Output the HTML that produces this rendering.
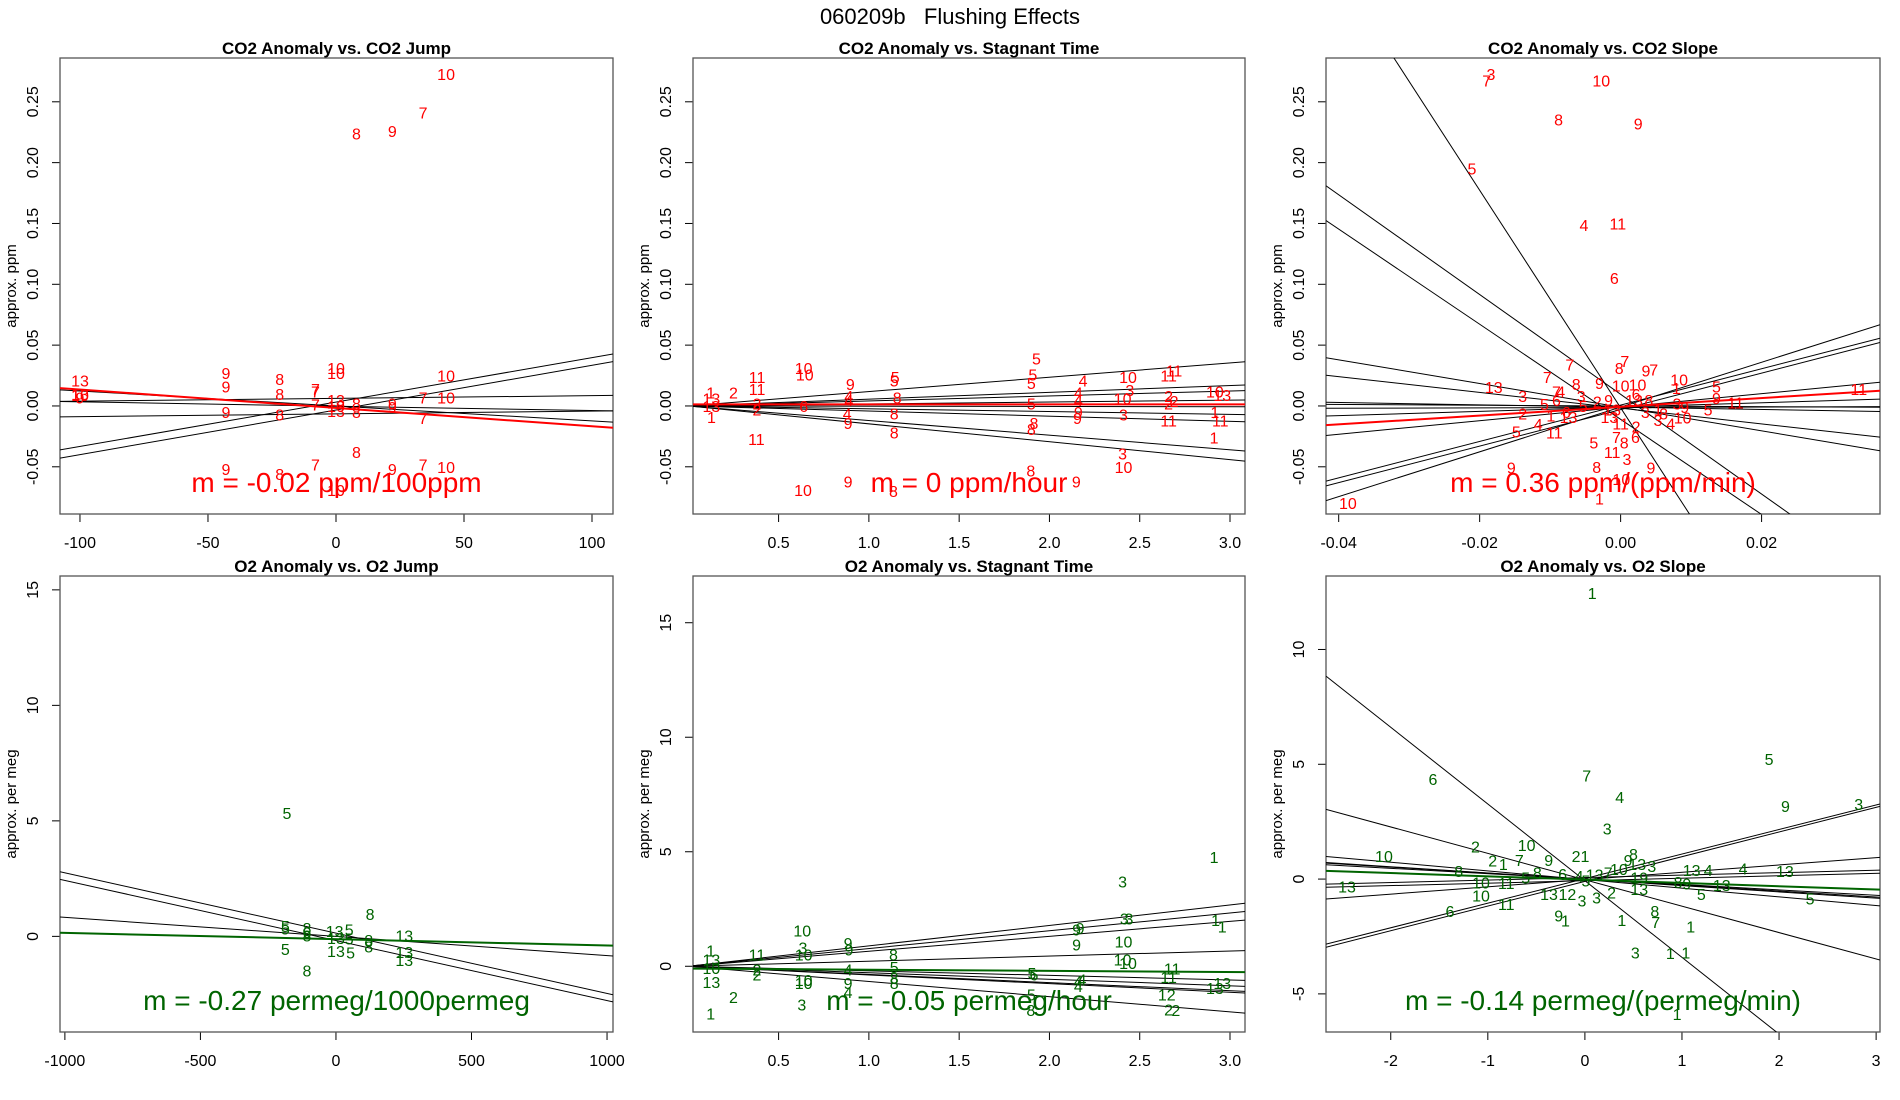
<!DOCTYPE html>
<html><head><meta charset="utf-8"><title>060209b Flushing Effects</title>
<style>
html,body{margin:0;padding:0;background:#fff;}
svg{display:block;font-family:"Liberation Sans",Arial,sans-serif;}
</style></head>
<body>
<svg id="chart" width="1900" height="1100" viewBox="0 0 1900 1100">
<rect x="0" y="0" width="1900" height="1100" fill="#fff"/>
<text x="950" y="24" text-anchor="middle" font-size="22" style="white-space:pre">060209b   Flushing Effects</text>
</svg>
<script>
// ---- Panel 1: CO2 Anomaly vs CO2 Jump ----
const p1Points = [[43,0.273,'10'],[34,0.241,'7'],[8,0.224,'8'],[22,0.226,'9'],[-100,0.021,'13'],[-100,0.010,'13'],[-100,0.009,'10'],[-100,0.007,'9'],
[-43,0.027,'9'],[-43,0.016,'9'],[-43,-0.005,'9'],[-22,0.022,'8'],[-22,0.010,'8'],[-22,-0.007,'8'],[-8,0.014,'7'],[-8,0.012,'7'],[-8,0.001,'7'],
[0,0.031,'10'],[0,0.027,'10'],[0,0.005,'13'],[0,0,'10'],[0,-0.004,'13'],[8,0.002,'8'],[8,-0.005,'8'],[22,0.002,'9'],[22,-0.001,'9'],
[34,0.007,'7'],[34,-0.010,'7'],[43,0.025,'10'],[43,0.007,'10'],[8,-0.038,'8'],[-8,-0.048,'7'],[34,-0.048,'7'],[43,-0.050,'10'],
[-43,-0.052,'9'],[-22,-0.056,'8'],[22,-0.052,'9'],[0,-0.069,'10']];
const p1LineInt = [0.0032,-0.0033,0.0062,-0.0065,0,-0.0002];
const p1LineSlope = [0.000365,0.000367,0.0000227,0.0000227,-0.000123,-0.0000357];
const p1Fit = [-0.0016,-0.000151];
const p1XTicks = [-100,-50,0,50,100];
const p1YTicks = [-0.05,0,0.05,0.10,0.15,0.20,0.25];
const p1YLabels = ['-0.05','0.00','0.05','0.10','0.15','0.20','0.25'];

// ---- Panel 2: CO2 Anomaly vs Stagnant Time ----
const p2Points = [[1.928,0.039,'5'],[1.908,0.026,'5'],[1.90,0.019,'5'],[1.90,0.002,'5'],[0.639,0.031,'10'],[0.645,0.026,'10'],[0.381,0.024,'11'],[0.381,0.014,'11'],
[0.377,-0.027,'11'],[1.146,0.024,'5'],[1.14,0.021,'5'],[0.897,0.018,'9'],[0.889,0.008,'4'],[0.889,0.005,'4'],[1.157,0.007,'8'],[0.25,0.011,'2'],
[0.124,0.011,'1'],[0.128,0.006,'13'],[0.128,0,'13'],[0.128,-0.009,'1'],[0.38,0.002,'2'],[0.38,-0.003,'2'],[0.639,0,'6'],[0.88,-0.006,'4'],
[0.885,-0.014,'9'],[1.14,-0.006,'8'],[1.14,-0.022,'8'],[1.914,-0.014,'8'],[1.90,-0.019,'8'],[1.897,-0.053,'8'],[0.885,-0.062,'9'],[0.635,-0.069,'10'],
[1.136,-0.070,'8'],[2.149,-0.062,'9'],[2.186,0.021,'4'],[2.16,0.011,'4'],[2.16,0.005,'4'],[2.16,-0.005,'9'],[2.155,-0.010,'9'],[2.435,0.024,'10'],
[2.445,0.013,'3'],[2.405,0.006,'10'],[2.41,-0.007,'3'],[2.405,-0.039,'3'],[2.41,-0.050,'10'],[2.66,0.025,'11'],[2.69,0.029,'11'],[2.66,0.008,'2'],
[2.69,0.004,'2'],[2.66,0.002,'2'],[2.66,-0.012,'11'],[2.916,0.012,'10'],[2.957,0.009,'13'],[2.916,-0.005,'1'],[2.946,-0.012,'11'],[2.912,-0.026,'1']];
const p2LineInt = [0,0,0,0,0,0,0,0,0];
const p2LineSlope = [0.0118,0.0056,0.0041,0.0016,-0.0002,-0.0023,-0.0042,-0.0120,-0.0147];
const p2Fit = [0.0013,0];
const p2XTicks = [0.5,1.0,1.5,2.0,2.5,3.0];
const p2XLabels = ['0.5','1.0','1.5','2.0','2.5','3.0'];

// ---- Panel 3: CO2 Anomaly vs CO2 Slope ----
const p3Points = [[-0.0184,0.273,'3'],[-0.019,0.2675,'7'],[-0.00275,0.2675,'10'],[-0.0088,0.2356,'8'],[0.0025,0.232,'9'],[-0.0211,0.195,'5'],
[-0.0052,0.1486,'4'],[-0.0004,0.150,'11'],[-0.0009,0.105,'6'],[-0.0072,0.034,'7'],[-0.0104,0.0236,'7'],[-0.018,0.0156,'13'],[-0.0139,0.0083,'3'],
[-0.0108,0.0017,'5'],[-0.0091,0.012,'7'],[-0.0085,0.012,'4'],[-0.0091,0.005,'6'],[-0.0063,0.018,'8'],[-0.003,0.019,'9'],[0.0006,0.037,'7'],
[-0.0002,0.031,'8'],[0.0036,0.029,'9'],[0.0047,0.030,'7'],[0,0.0167,'10'],[0.0024,0.0175,'10'],[0.0083,0.0217,'10'],[0.0079,0.0147,'1'],
[0.0136,0.016,'5'],[0.0136,0.0064,'9'],[0.0163,0.003,'11'],[0.0338,0.014,'11'],[-0.0139,-0.006,'2'],[-0.0117,-0.015,'4'],[-0.0148,-0.021,'5'],
[-0.0094,-0.022,'11'],[-0.0099,-0.008,'1'],[-0.0077,-0.005,'6'],[-0.0074,-0.009,'13'],[-0.0056,0.008,'3'],[-0.0053,0,'5'],[-0.0033,0.0036,'2'],
[-0.0017,0.005,'9'],[-0.0016,-0.009,'13'],[-0.0012,-0.003,'13'],[0,-0.0144,'11'],[0.0022,-0.017,'2'],[0.0021,-0.0256,'6'],[-0.0006,-0.0256,'7'],
[0.0005,-0.030,'8'],[-0.0038,-0.030,'5'],[-0.0012,-0.038,'11'],[0.0009,-0.0436,'3'],[-0.0034,-0.050,'8'],[0.0043,-0.0506,'9'],[-0.0155,-0.0506,'9'],
[0.0001,-0.060,'10'],[-0.003,-0.076,'1'],[-0.0387,-0.0797,'10'],[0.0019,0.005,'13'],[0.0022,0.010,'6'],[0.004,0.005,'8'],[0.0035,-0.005,'3'],
[0.0053,-0.0117,'3'],[0.0061,-0.006,'8'],[0.008,0.002,'3'],[0.0091,-0.001,'9'],[0.0071,-0.0144,'4'],[0.0088,-0.0094,'10'],[0.0124,-0.003,'5'],[0.0053,-0.003,'1']];
const p3LineInt = [-0.0015,0.0096,-0.011,-0.001,-0.0018,-0.001,-0.0012,-0.0009,-0.001,0.0007,-0.003,-0.0009,0];
const p3LineSlope = [-8.94,-4.1,-3.91,-0.973,-0.648,-0.096,0.017,0.177,0.556,1.494,1.50,1.84,-0.03];
const p3Fit = [-0.0007,0.36];
const p3XTicks = [-0.04,-0.02,0,0.02];
const p3XLabels = ['-0.04','-0.02','0.00','0.02'];

// ---- Panel 4: O2 Anomaly vs O2 Jump ----
const p4Points = [[-181,5.34,'5'],[-187,0.45,'5'],[-187,0.34,'5'],[-107,0.37,'8'],[-107,0.19,'6'],[-107,0.03,'8'],[-5,0.23,'13'],[49,0.30,'5'],
[0,-0.08,'13'],[49,-0.09,'5'],[-187,-0.54,'5'],[0,-0.64,'13'],[54,-0.70,'5'],[126,0.96,'8'],[121,-0.16,'8'],[121,-0.43,'8'],[252,0.03,'13'],
[252,-0.67,'13'],[252,-1.02,'13'],[-107,-1.48,'8']];
const p4LineInt = [0.14,-0.18,-0.003];
const p4LineSlope = [-0.00261,-0.0026,-0.000828];
const p4Fit = [-0.122,-0.000272];
const p4XTicks = [-1000,-500,0,500,1000];
const p4YTicks = [0,5,10,15];

// ---- Panel 5: O2 Anomaly vs Stagnant Time ----
const p5Points = [[2.912,4.77,'1'],[2.405,3.71,'3'],[2.415,2.08,'3'],[2.44,2.08,'3'],[2.92,2.03,'1'],[2.957,1.74,'1'],[2.17,1.67,'9'],[2.15,1.60,'9'],
[2.15,0.94,'9'],[2.41,1.09,'10'],[2.405,0.29,'10'],[2.435,0.15,'10'],[0.631,1.56,'10'],[0.635,0.83,'3'],[0.639,0.51,'10'],[0.885,1.02,'9'],
[0.89,0.73,'9'],[1.136,0.51,'8'],[1.14,-0.04,'5'],[1.14,-0.51,'8'],[1.14,-0.73,'8'],[0.38,0.51,'11'],[0.124,0.68,'1'],[0.128,0.29,'13'],
[0.128,-0.07,'10'],[0.128,-0.68,'13'],[0.25,-1.35,'2'],[0.124,-2.06,'1'],[0.38,-0.15,'2'],[0.38,-0.36,'2'],[0.639,-0.61,'10'],[0.639,-0.72,'10'],
[0.629,-1.67,'3'],[0.885,-0.15,'4'],[0.885,-0.73,'9'],[0.885,-1.13,'4'],[1.903,-0.29,'5'],[1.914,-0.36,'6'],[1.90,-1.24,'5'],[1.897,-1.92,'8'],
[2.16,-0.65,'4'],[2.18,-0.58,'4'],[2.16,-0.87,'4'],[2.68,-0.10,'11'],[2.66,-0.47,'11'],[2.957,-0.73,'13'],[2.916,-0.94,'13'],[2.65,-1.24,'12'],
[2.66,-1.89,'2'],[2.70,-1.92,'2']];
const p5LineInt = [0,0,0,0,0,0,0,0,0];
const p5LineSlope = [0.892,0.775,0.654,0.222,-0.199,-0.284,-0.356,-0.379,-0.663];
const p5Fit = [-0.1,-0.05];
const p5YTicks = [0,5,10,15];

// ---- Panel 6: O2 Anomaly vs O2 Slope ----
const p6Points = [[0.075,12.46,'1'],[1.897,5.22,'5'],[0.019,4.52,'7'],[0.358,3.58,'4'],[2.066,3.19,'9'],[2.82,3.26,'3'],[-1.565,4.35,'6'],[0.23,2.2,'3'],
[-1.127,1.41,'2'],[-0.6,1.48,'10'],[-2.07,1.01,'10'],[-0.95,0.80,'2'],[-0.84,0.65,'1'],[-0.675,0.83,'7'],[-0.373,0.83,'9'],[-0.045,1.01,'21'],
[0.5,1.09,'8'],[0.445,0.83,'9'],[0.54,0.65,'13'],[0.69,0.58,'3'],[-1.3,0.36,'8'],[1.1,0.39,'13'],[1.27,0.39,'4'],[1.63,0.46,'4'],[2.06,0.36,'13'],
[-0.61,0.07,'5'],[-0.49,0.29,'8'],[-2.45,-0.32,'13'],[-1.07,-0.14,'10'],[-0.81,-0.17,'11'],[-1.07,-0.72,'10'],[-0.81,-1.09,'11'],[-1.39,-1.38,'6'],
[-0.37,-0.65,'13'],[-0.18,-0.65,'12'],[-0.03,-0.94,'3'],[0.12,-0.80,'3'],[0.275,-0.58,'2'],[0.96,-0.12,'8'],[1.05,-0.19,'9'],[1.41,-0.26,'13'],
[1.2,-0.65,'5'],[2.32,-0.84,'5'],[0.56,-0.43,'13'],[0.56,0.07,'19'],[-0.27,-1.59,'9'],[-0.2,-1.81,'1'],[0.38,-1.78,'1'],[0.72,-1.38,'8'],
[0.73,-1.88,'7'],[1.09,-2.07,'1'],[0.52,-3.19,'3'],[0.88,-3.23,'1'],[1.04,-3.19,'1'],[0.95,-5.87,'1'],[0.1,0.2,'13'],[0.24,0.29,'7'],
[0.35,0.43,'10'],[0.01,-0.07,'5'],[-0.06,0.14,'4'],[-0.23,0.22,'6']];
const p6LineInt = [-0.07,-0.03,0.02,-0.1,-0.02,-0.01,0,0.065,-0.07,-0.02,0];
const p6LineSlope = [-3.34,-1.15,1.07,1.075,-0.377,-0.274,-0.235,0.107,0.107,0.318,-0.26];
const p6Fit = [-0.024,-0.144];
const p6XTicks = [-2,-1,0,1,2,3];
const p6YTicks = [-5,0,5,10];

const NS = 'http://www.w3.org/2000/svg';
const svg = document.getElementById('chart');
function mk(tag, attrs, parent){
  const e = document.createElementNS(NS, tag);
  for (const k in attrs) e.setAttribute(k, attrs[k]);
  (parent||svg).appendChild(e);
  return e;
}
function fmt(v){ return String(v); }

function panel(c){
  const g = mk('g', {});
  
  
  const L=c.box[0], T=c.box[1], R=c.box[2], B=c.box[3];
  const sx = v => L + (v - c.xlim[0]) / (c.xlim[1]-c.xlim[0]) * (R-L);
  const sy = v => B - (v - c.ylim[0]) / (c.ylim[1]-c.ylim[0]) * (B-T);
  const cid = 'clip-' + c.name;
  const defs = mk('defs', {}, g);
  const cp = mk('clipPath', {id: cid}, defs);
  mk('rect', {x:L, y:T, width:R-L, height:B-T}, cp);
  const t = mk('text', {x:(L+R)/2, y:T-4, 'text-anchor':'middle', 'font-size':17, 'font-weight':'bold'}, g);
  t.textContent = c.title;
  
  
  const xa = mk('g', {}, g);
  
  
  mk('line', {x1:sx(c.xticks[0]), x2:sx(c.xticks[c.xticks.length-1]), y1:B, y2:B, stroke:'#000'}, xa);
  c.xticks.forEach((v,i)=>{
    const x = sx(v);
    mk('line', {x1:x, x2:x, y1:B, y2:B+8, stroke:'#000'}, xa);
    const tl = mk('text', {x:x, y:B+34, 'text-anchor':'middle', 'font-size':16}, xa);
    tl.textContent = c.xlabels ? c.xlabels[i] : fmt(v);
    
    
  });
  const ya = mk('g', {}, g);
  
  
  mk('line', {y1:sy(c.yticks[0]), y2:sy(c.yticks[c.yticks.length-1]), x1:L, x2:L, stroke:'#000'}, ya);
  c.yticks.forEach((v,i)=>{
    const y = sy(v);
    mk('line', {x1:L-8, x2:L, y1:y, y2:y, stroke:'#000'}, ya);
    const tl = mk('text', {x:0, y:0, 'text-anchor':'middle', 'font-size':16, transform:'translate('+(L-22)+','+y+') rotate(-90)'}, ya);
    tl.textContent = c.ylabels ? c.ylabels[i] : fmt(v);
    
    
  });
  const yt = mk('text', {x:0, y:0, 'text-anchor':'middle', 'font-size':15, transform:'translate('+(L-44)+','+((T+B)/2)+') rotate(-90)'}, g);
  yt.textContent = c.ytitle;
  
  
  const bx = mk('rect', {x:L, y:T, width:R-L, height:B-T, fill:'none', stroke:'#555', 'stroke-width':1.3}, g);
  
  
  const inner = mk('g', {'clip-path':'url(#'+cid+')'}, g);
  c.ints.forEach((a,i)=>{
    const b = c.slopes[i];
    const ln = mk('line', {x1:sx(c.xlim[0]), y1:sy(a+b*c.xlim[0]), x2:sx(c.xlim[1]), y2:sy(a+b*c.xlim[1]), stroke:'#000', 'stroke-width':1}, inner);
    
    
  });
  c.points.forEach(p=>{
    const tx = mk('text', {x:sx(p[0]), y:sy(p[1])+6, 'text-anchor':'middle', 'font-size':16, fill:c.color}, inner);
    tx.textContent = p[2];
    
    
  });
  const a=c.fit[0], b=c.fit[1];
  const fl = mk('line', {x1:sx(c.xlim[0]), y1:sy(a+b*c.xlim[0]), x2:sx(c.xlim[1]), y2:sy(a+b*c.xlim[1]), stroke:c.color, 'stroke-width':2}, inner);
  
  
  const st = mk('text', {x:(L+R)/2, y:c.slopeY, 'text-anchor':'middle', 'font-size':28, fill:c.color}, g);
  st.textContent = c.slopeText;
  
  
}

const RED='#ff0000', GREEN='#006400';
const row1 = [58,514], row2 = [576,1032];
const col1 = [60,613], col2 = [693,1245], col3 = [1326,1880];
panel({name:'co2-vs-jump-panel', title:'CO2 Anomaly vs. CO2 Jump', box:[col1[0],row1[0],col1[1],row1[1]], xlim:[-107.8,108.2], ylim:[-0.0888,0.286],
  xticks:p1XTicks, yticks:p1YTicks, ylabels:p1YLabels, ytitle:'approx. ppm', points:p1Points, ints:p1LineInt, slopes:p1LineSlope, fit:p1Fit,
  color:RED, slopeText:'m = -0.02 ppm/100ppm', slopeY:492});
panel({name:'co2-vs-stagnant-panel', title:'CO2 Anomaly vs. Stagnant Time', box:[col2[0],row1[0],col2[1],row1[1]], xlim:[0.026,3.083], ylim:[-0.0888,0.286],
  xticks:p2XTicks, xlabels:p2XLabels, yticks:p1YTicks, ylabels:p1YLabels, ytitle:'approx. ppm', points:p2Points, ints:p2LineInt, slopes:p2LineSlope, fit:p2Fit,
  color:RED, slopeText:'m = 0 ppm/hour', slopeY:492});
panel({name:'co2-vs-slope-panel', title:'CO2 Anomaly vs. CO2 Slope', box:[col3[0],row1[0],col3[1],row1[1]], xlim:[-0.0418,0.0368], ylim:[-0.0888,0.286],
  xticks:p3XTicks, xlabels:p3XLabels, yticks:p1YTicks, ylabels:p1YLabels, ytitle:'approx. ppm', points:p3Points, ints:p3LineInt, slopes:p3LineSlope, fit:p3Fit,
  color:RED, slopeText:'m = 0.36 ppm/(ppm/min)', slopeY:492});
panel({name:'o2-vs-jump-panel', title:'O2 Anomaly vs. O2 Jump', box:[col1[0],row2[0],col1[1],row2[1]], xlim:[-1018,1022], ylim:[-4.14,15.6],
  xticks:p4XTicks, yticks:p4YTicks, ytitle:'approx. per meg', points:p4Points, ints:p4LineInt, slopes:p4LineSlope, fit:p4Fit,
  color:GREEN, slopeText:'m = -0.27 permeg/1000permeg', slopeY:1010});
panel({name:'o2-vs-stagnant-panel', title:'O2 Anomaly vs. Stagnant Time', box:[col2[0],row2[0],col2[1],row2[1]], xlim:[0.026,3.083], ylim:[-2.87,17.04],
  xticks:p2XTicks, xlabels:p2XLabels, yticks:p5YTicks, ytitle:'approx. per meg', points:p5Points, ints:p5LineInt, slopes:p5LineSlope, fit:p5Fit,
  color:GREEN, slopeText:'m = -0.05 permeg/hour', slopeY:1010});
panel({name:'o2-vs-slope-panel', title:'O2 Anomaly vs. O2 Slope', box:[col3[0],row2[0],col3[1],row2[1]], xlim:[-2.667,3.04], ylim:[-6.66,13.2],
  xticks:p6XTicks, yticks:p6YTicks, ytitle:'approx. per meg', points:p6Points, ints:p6LineInt, slopes:p6LineSlope, fit:p6Fit,
  color:GREEN, slopeText:'m = -0.14 permeg/(permeg/min)', slopeY:1010});
</script>
</body></html>
